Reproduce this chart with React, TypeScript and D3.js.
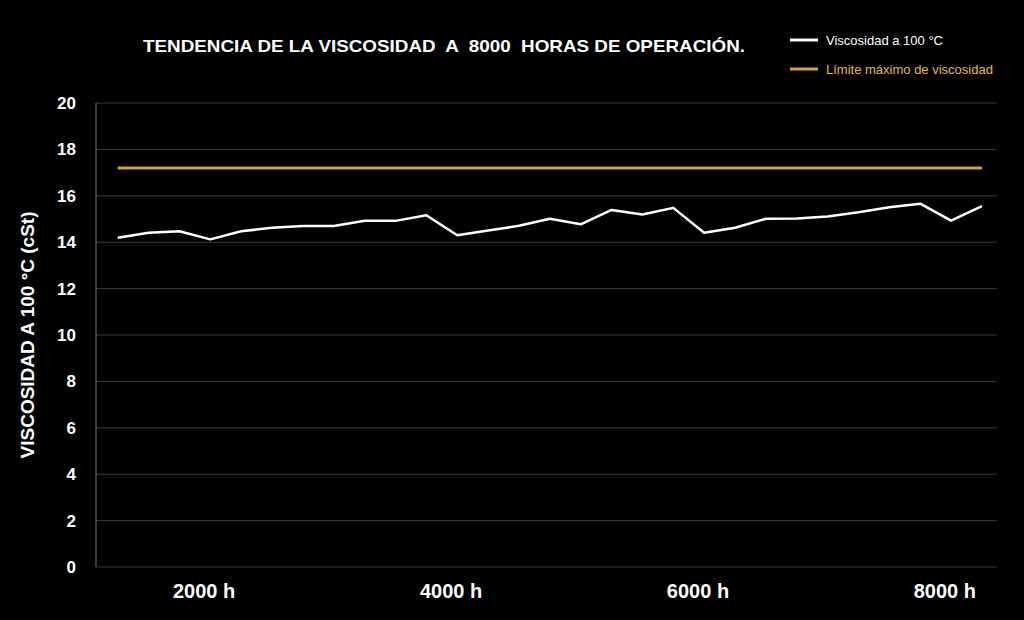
import React from "react";
import * as d3 from "d3";

const hours = [1300,1550,1800,2050,2300,2550,2800,3050,3300,3550,3800,4050,4300,4550,4800,5050,5300,5550,5800,6050,6300,6550,6800,7050,7300,7550,7800,8050,8300];
const viscosity = [14.19,14.41,14.47,14.12,14.47,14.62,14.7,14.7,14.92,14.92,15.16,14.3,14.5,14.71,15.01,14.77,15.39,15.19,15.48,14.41,14.62,15.01,15.02,15.11,15.29,15.51,15.66,14.93,15.56];
const limit = 17.2;
const xTicks = [2000, 4000, 6000, 8000];
const yTicks = [0,2,4,6,8,10,12,14,16,18,20];

export default function App() {
  const W = 1024, H = 620;
  const x = d3.scaleLinear().domain([1124, 8422]).range([96, 997]);
  const y = d3.scaleLinear().domain([0, 20]).range([567, 103]);
  const line = d3.line<number>().x((_, i) => x(hours[i])).y(d => y(d));
  const font = "Liberation Sans, Arial, sans-serif";
  return (
    <svg width={W} height={H} style={{ position: "absolute", left: 0, top: 0, background: "#000" }} fontFamily={font}>
      <rect width={W} height={H} fill="#000" />
      {yTicks.map(t => (
        <g key={t}>
          <line x1={96} x2={997} y1={y(t)} y2={y(t)} stroke="#3a3a3a" strokeWidth={1} />
          <text x={76} y={y(t)} dy="0.35em" textAnchor="end" fill="#fff" fontSize={17} fontWeight="bold">{t}</text>
        </g>
      ))}
      <line x1={96} x2={96} y1={103} y2={567} stroke="#777" />
      {xTicks.map(t => (
        <text key={t} x={x(t)} y={598} textAnchor="middle" fill="#fff" fontSize={20} fontWeight="bold">{t} h</text>
      ))}
      <line x1={x(hours[0])} x2={x(hours[hours.length - 1])} y1={y(limit)} y2={y(limit)} stroke="#d4a437" strokeWidth={3} />
      <path d={line(viscosity) || ""} fill="none" stroke="#fff" strokeWidth={2.5} strokeLinejoin="round" />
      <text x={444} y={52} textAnchor="middle" fill="#fff" fontSize={17} fontWeight="bold" xmlSpace="preserve" style={{ whiteSpace: "pre" }} textLength={602} lengthAdjust="spacingAndGlyphs">TENDENCIA DE LA VISCOSIDAD  A  8000  HORAS DE OPERACIÓN.</text>
      <line x1={790} x2={818} y1={40} y2={40} stroke="#fff" strokeWidth={3} />
      <text x={826} y={40} dy="0.35em" fill="#fff" fontSize={13}>Viscosidad a 100 °C</text>
      <line x1={790} x2={818} y1={69} y2={69} stroke="#d4a437" strokeWidth={3} />
      <text x={826} y={69} dy="0.35em" fill="#e8b84a" fontSize={13}>Límite máximo de viscosidad</text>
      <text transform="translate(34,335) rotate(-90)" textAnchor="middle" fill="#fff" fontSize={19} fontWeight="bold">VISCOSIDAD A 100 °C (cSt)</text>
    </svg>
  );
}
